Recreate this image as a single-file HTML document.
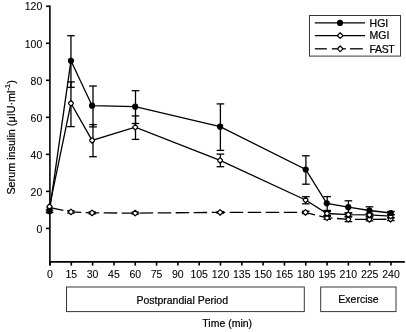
<!DOCTYPE html>
<html><head><meta charset="utf-8"><style>
html,body{margin:0;padding:0;background:#fff;width:406px;height:332px;overflow:hidden}
svg{display:block}
#w{will-change:transform;width:406px;height:332px}
text{font-family:"Liberation Sans", sans-serif;stroke:#000;stroke-width:0.22px;paint-order:stroke}
.tk{stroke-width:0.08px}
</style></head><body><div id="w">
<svg width="406" height="332" viewBox="0 0 406 332" font-family='"Liberation Sans", sans-serif' fill="#000"><line x1="49.9" y1="5.5" x2="49.9" y2="265.6" stroke="#000" stroke-width="1.6"/>
<line x1="49.1" y1="261.9" x2="404.8" y2="261.9" stroke="#000" stroke-width="1.6"/>
<line x1="46" y1="228.40" x2="49.9" y2="228.40" stroke="#000" stroke-width="1.6"/>
<text class="tk" x="42.3" y="232.60" text-anchor="end" font-size="10.5">0</text>
<line x1="46" y1="191.38" x2="49.9" y2="191.38" stroke="#000" stroke-width="1.6"/>
<text class="tk" x="42.3" y="195.58" text-anchor="end" font-size="10.5">20</text>
<line x1="46" y1="154.36" x2="49.9" y2="154.36" stroke="#000" stroke-width="1.6"/>
<text class="tk" x="42.3" y="158.56" text-anchor="end" font-size="10.5">40</text>
<line x1="46" y1="117.34" x2="49.9" y2="117.34" stroke="#000" stroke-width="1.6"/>
<text class="tk" x="42.3" y="121.54" text-anchor="end" font-size="10.5">60</text>
<line x1="46" y1="80.32" x2="49.9" y2="80.32" stroke="#000" stroke-width="1.6"/>
<text class="tk" x="42.3" y="84.52" text-anchor="end" font-size="10.5">80</text>
<line x1="46" y1="43.30" x2="49.9" y2="43.30" stroke="#000" stroke-width="1.6"/>
<text class="tk" x="42.3" y="47.50" text-anchor="end" font-size="10.5">100</text>
<line x1="46" y1="6.28" x2="49.9" y2="6.28" stroke="#000" stroke-width="1.6"/>
<text class="tk" x="42.3" y="10.48" text-anchor="end" font-size="10.5">120</text>
<line x1="50.00" y1="261.9" x2="50.00" y2="265.6" stroke="#000" stroke-width="1.6"/>
<text class="tk" x="50.00" y="278.2" text-anchor="middle" font-size="10.5">0</text>
<line x1="71.31" y1="261.9" x2="71.31" y2="265.6" stroke="#000" stroke-width="1.6"/>
<text class="tk" x="71.31" y="278.2" text-anchor="middle" font-size="10.5">15</text>
<line x1="92.62" y1="261.9" x2="92.62" y2="265.6" stroke="#000" stroke-width="1.6"/>
<text class="tk" x="92.62" y="278.2" text-anchor="middle" font-size="10.5">30</text>
<line x1="113.94" y1="261.9" x2="113.94" y2="265.6" stroke="#000" stroke-width="1.6"/>
<text class="tk" x="113.94" y="278.2" text-anchor="middle" font-size="10.5">45</text>
<line x1="135.25" y1="261.9" x2="135.25" y2="265.6" stroke="#000" stroke-width="1.6"/>
<text class="tk" x="135.25" y="278.2" text-anchor="middle" font-size="10.5">60</text>
<line x1="156.56" y1="261.9" x2="156.56" y2="265.6" stroke="#000" stroke-width="1.6"/>
<text class="tk" x="156.56" y="278.2" text-anchor="middle" font-size="10.5">75</text>
<line x1="177.88" y1="261.9" x2="177.88" y2="265.6" stroke="#000" stroke-width="1.6"/>
<text class="tk" x="177.88" y="278.2" text-anchor="middle" font-size="10.5">90</text>
<line x1="199.19" y1="261.9" x2="199.19" y2="265.6" stroke="#000" stroke-width="1.6"/>
<text class="tk" x="199.19" y="278.2" text-anchor="middle" font-size="10.5">105</text>
<line x1="220.50" y1="261.9" x2="220.50" y2="265.6" stroke="#000" stroke-width="1.6"/>
<text class="tk" x="220.50" y="278.2" text-anchor="middle" font-size="10.5">120</text>
<line x1="241.81" y1="261.9" x2="241.81" y2="265.6" stroke="#000" stroke-width="1.6"/>
<text class="tk" x="241.81" y="278.2" text-anchor="middle" font-size="10.5">135</text>
<line x1="263.12" y1="261.9" x2="263.12" y2="265.6" stroke="#000" stroke-width="1.6"/>
<text class="tk" x="263.12" y="278.2" text-anchor="middle" font-size="10.5">150</text>
<line x1="284.44" y1="261.9" x2="284.44" y2="265.6" stroke="#000" stroke-width="1.6"/>
<text class="tk" x="284.44" y="278.2" text-anchor="middle" font-size="10.5">165</text>
<line x1="305.75" y1="261.9" x2="305.75" y2="265.6" stroke="#000" stroke-width="1.6"/>
<text class="tk" x="305.75" y="278.2" text-anchor="middle" font-size="10.5">180</text>
<line x1="327.06" y1="261.9" x2="327.06" y2="265.6" stroke="#000" stroke-width="1.6"/>
<text class="tk" x="327.06" y="278.2" text-anchor="middle" font-size="10.5">195</text>
<line x1="348.38" y1="261.9" x2="348.38" y2="265.6" stroke="#000" stroke-width="1.6"/>
<text class="tk" x="348.38" y="278.2" text-anchor="middle" font-size="10.5">210</text>
<line x1="369.69" y1="261.9" x2="369.69" y2="265.6" stroke="#000" stroke-width="1.6"/>
<text class="tk" x="369.69" y="278.2" text-anchor="middle" font-size="10.5">225</text>
<line x1="391.00" y1="261.9" x2="391.00" y2="265.6" stroke="#000" stroke-width="1.6"/>
<text class="tk" x="391.00" y="278.2" text-anchor="middle" font-size="10.5">240</text>
<line x1="70.95" y1="210.80" x2="70.95" y2="213.00" stroke="#000" stroke-width="1.3"/>
<line x1="67.15" y1="210.80" x2="74.75" y2="210.80" stroke="#000" stroke-width="1.3"/>
<line x1="67.15" y1="213.00" x2="74.75" y2="213.00" stroke="#000" stroke-width="1.3"/>
<line x1="92.30" y1="212.00" x2="92.30" y2="213.80" stroke="#000" stroke-width="1.3"/>
<line x1="88.50" y1="212.00" x2="96.10" y2="212.00" stroke="#000" stroke-width="1.3"/>
<line x1="88.50" y1="213.80" x2="96.10" y2="213.80" stroke="#000" stroke-width="1.3"/>
<line x1="135.30" y1="212.20" x2="135.30" y2="214.00" stroke="#000" stroke-width="1.3"/>
<line x1="131.50" y1="212.20" x2="139.10" y2="212.20" stroke="#000" stroke-width="1.3"/>
<line x1="131.50" y1="214.00" x2="139.10" y2="214.00" stroke="#000" stroke-width="1.3"/>
<line x1="220.30" y1="211.60" x2="220.30" y2="213.20" stroke="#000" stroke-width="1.3"/>
<line x1="216.50" y1="211.60" x2="224.10" y2="211.60" stroke="#000" stroke-width="1.3"/>
<line x1="216.50" y1="213.20" x2="224.10" y2="213.20" stroke="#000" stroke-width="1.3"/>
<line x1="305.70" y1="211.20" x2="305.70" y2="213.60" stroke="#000" stroke-width="1.3"/>
<line x1="301.90" y1="211.20" x2="309.50" y2="211.20" stroke="#000" stroke-width="1.3"/>
<line x1="301.90" y1="213.60" x2="309.50" y2="213.60" stroke="#000" stroke-width="1.3"/>
<line x1="327.20" y1="216.30" x2="327.20" y2="219.40" stroke="#000" stroke-width="1.3"/>
<line x1="323.40" y1="216.30" x2="331.00" y2="216.30" stroke="#000" stroke-width="1.3"/>
<line x1="323.40" y1="219.40" x2="331.00" y2="219.40" stroke="#000" stroke-width="1.3"/>
<line x1="348.40" y1="217.00" x2="348.40" y2="221.60" stroke="#000" stroke-width="1.3"/>
<line x1="344.60" y1="217.00" x2="352.20" y2="217.00" stroke="#000" stroke-width="1.3"/>
<line x1="344.60" y1="221.60" x2="352.20" y2="221.60" stroke="#000" stroke-width="1.3"/>
<line x1="369.50" y1="218.00" x2="369.50" y2="220.80" stroke="#000" stroke-width="1.3"/>
<line x1="365.70" y1="218.00" x2="373.30" y2="218.00" stroke="#000" stroke-width="1.3"/>
<line x1="365.70" y1="220.80" x2="373.30" y2="220.80" stroke="#000" stroke-width="1.3"/>
<line x1="390.80" y1="217.80" x2="390.80" y2="220.60" stroke="#000" stroke-width="1.3"/>
<line x1="387.00" y1="217.80" x2="394.60" y2="217.80" stroke="#000" stroke-width="1.3"/>
<line x1="387.00" y1="220.60" x2="394.60" y2="220.60" stroke="#000" stroke-width="1.3"/>
<line x1="70.95" y1="81.90" x2="70.95" y2="126.60" stroke="#000" stroke-width="1.3"/>
<line x1="67.15" y1="81.90" x2="74.75" y2="81.90" stroke="#000" stroke-width="1.3"/>
<line x1="67.15" y1="126.60" x2="74.75" y2="126.60" stroke="#000" stroke-width="1.3"/>
<line x1="93.00" y1="124.60" x2="93.00" y2="156.70" stroke="#000" stroke-width="1.3"/>
<line x1="89.20" y1="124.60" x2="96.80" y2="124.60" stroke="#000" stroke-width="1.3"/>
<line x1="89.20" y1="156.70" x2="96.80" y2="156.70" stroke="#000" stroke-width="1.3"/>
<line x1="135.50" y1="115.90" x2="135.50" y2="139.40" stroke="#000" stroke-width="1.3"/>
<line x1="131.70" y1="115.90" x2="139.30" y2="115.90" stroke="#000" stroke-width="1.3"/>
<line x1="131.70" y1="139.40" x2="139.30" y2="139.40" stroke="#000" stroke-width="1.3"/>
<line x1="220.40" y1="154.10" x2="220.40" y2="166.70" stroke="#000" stroke-width="1.3"/>
<line x1="216.60" y1="154.10" x2="224.20" y2="154.10" stroke="#000" stroke-width="1.3"/>
<line x1="216.60" y1="166.70" x2="224.20" y2="166.70" stroke="#000" stroke-width="1.3"/>
<line x1="305.80" y1="196.70" x2="305.80" y2="203.80" stroke="#000" stroke-width="1.3"/>
<line x1="302.00" y1="196.70" x2="309.60" y2="196.70" stroke="#000" stroke-width="1.3"/>
<line x1="302.00" y1="203.80" x2="309.60" y2="203.80" stroke="#000" stroke-width="1.3"/>
<line x1="327.20" y1="211.60" x2="327.20" y2="215.40" stroke="#000" stroke-width="1.3"/>
<line x1="323.40" y1="211.60" x2="331.00" y2="211.60" stroke="#000" stroke-width="1.3"/>
<line x1="323.40" y1="215.40" x2="331.00" y2="215.40" stroke="#000" stroke-width="1.3"/>
<line x1="348.40" y1="213.00" x2="348.40" y2="216.40" stroke="#000" stroke-width="1.3"/>
<line x1="344.60" y1="213.00" x2="352.20" y2="213.00" stroke="#000" stroke-width="1.3"/>
<line x1="344.60" y1="216.40" x2="352.20" y2="216.40" stroke="#000" stroke-width="1.3"/>
<line x1="369.50" y1="213.20" x2="369.50" y2="216.60" stroke="#000" stroke-width="1.3"/>
<line x1="365.70" y1="213.20" x2="373.30" y2="213.20" stroke="#000" stroke-width="1.3"/>
<line x1="365.70" y1="216.60" x2="373.30" y2="216.60" stroke="#000" stroke-width="1.3"/>
<line x1="390.90" y1="214.60" x2="390.90" y2="217.60" stroke="#000" stroke-width="1.3"/>
<line x1="387.10" y1="214.60" x2="394.70" y2="214.60" stroke="#000" stroke-width="1.3"/>
<line x1="387.10" y1="217.60" x2="394.70" y2="217.60" stroke="#000" stroke-width="1.3"/>
<line x1="49.50" y1="210.00" x2="49.50" y2="212.60" stroke="#000" stroke-width="1.3"/>
<line x1="45.70" y1="210.00" x2="53.30" y2="210.00" stroke="#000" stroke-width="1.3"/>
<line x1="45.70" y1="212.60" x2="53.30" y2="212.60" stroke="#000" stroke-width="1.3"/>
<line x1="70.95" y1="35.70" x2="70.95" y2="87.30" stroke="#000" stroke-width="1.3"/>
<line x1="67.15" y1="35.70" x2="74.75" y2="35.70" stroke="#000" stroke-width="1.3"/>
<line x1="67.15" y1="87.30" x2="74.75" y2="87.30" stroke="#000" stroke-width="1.3"/>
<line x1="93.00" y1="86.00" x2="93.00" y2="126.90" stroke="#000" stroke-width="1.3"/>
<line x1="89.20" y1="86.00" x2="96.80" y2="86.00" stroke="#000" stroke-width="1.3"/>
<line x1="89.20" y1="126.90" x2="96.80" y2="126.90" stroke="#000" stroke-width="1.3"/>
<line x1="135.50" y1="90.70" x2="135.50" y2="123.50" stroke="#000" stroke-width="1.3"/>
<line x1="131.70" y1="90.70" x2="139.30" y2="90.70" stroke="#000" stroke-width="1.3"/>
<line x1="131.70" y1="123.50" x2="139.30" y2="123.50" stroke="#000" stroke-width="1.3"/>
<line x1="220.40" y1="103.90" x2="220.40" y2="150.40" stroke="#000" stroke-width="1.3"/>
<line x1="216.60" y1="103.90" x2="224.20" y2="103.90" stroke="#000" stroke-width="1.3"/>
<line x1="216.60" y1="150.40" x2="224.20" y2="150.40" stroke="#000" stroke-width="1.3"/>
<line x1="305.90" y1="155.80" x2="305.90" y2="184.20" stroke="#000" stroke-width="1.3"/>
<line x1="302.10" y1="155.80" x2="309.70" y2="155.80" stroke="#000" stroke-width="1.3"/>
<line x1="302.10" y1="184.20" x2="309.70" y2="184.20" stroke="#000" stroke-width="1.3"/>
<line x1="327.20" y1="196.60" x2="327.20" y2="210.40" stroke="#000" stroke-width="1.3"/>
<line x1="323.40" y1="196.60" x2="331.00" y2="196.60" stroke="#000" stroke-width="1.3"/>
<line x1="323.40" y1="210.40" x2="331.00" y2="210.40" stroke="#000" stroke-width="1.3"/>
<line x1="348.40" y1="200.80" x2="348.40" y2="213.00" stroke="#000" stroke-width="1.3"/>
<line x1="344.60" y1="200.80" x2="352.20" y2="200.80" stroke="#000" stroke-width="1.3"/>
<line x1="344.60" y1="213.00" x2="352.20" y2="213.00" stroke="#000" stroke-width="1.3"/>
<line x1="369.50" y1="206.80" x2="369.50" y2="214.50" stroke="#000" stroke-width="1.3"/>
<line x1="365.70" y1="206.80" x2="373.30" y2="206.80" stroke="#000" stroke-width="1.3"/>
<line x1="365.70" y1="214.50" x2="373.30" y2="214.50" stroke="#000" stroke-width="1.3"/>
<line x1="390.90" y1="211.50" x2="390.90" y2="214.60" stroke="#000" stroke-width="1.3"/>
<line x1="387.10" y1="211.50" x2="394.70" y2="211.50" stroke="#000" stroke-width="1.3"/>
<line x1="387.10" y1="214.60" x2="394.70" y2="214.60" stroke="#000" stroke-width="1.3"/>
<polyline points="49.50,207.60 70.95,211.90 92.10,212.90 135.20,213.10 220.10,212.40 305.50,212.40 327.00,217.80 348.30,219.30 369.40,219.40 390.60,219.20" fill="none" stroke="#000" stroke-width="1.3" stroke-dasharray="13.5 4.5" stroke-dashoffset="-0.63"/>
<polyline points="49.50,206.60 70.95,103.30 92.10,140.40 135.20,127.20 220.10,160.40 305.60,200.00 327.00,213.50 348.30,214.70 369.40,214.90 390.70,216.10" fill="none" stroke="#000" stroke-width="1.3"/>
<polyline points="49.50,211.20 70.95,60.80 92.10,105.70 135.20,106.70 220.10,126.70 305.70,169.50 326.80,203.30 348.30,207.20 369.40,210.50 390.80,213.00" fill="none" stroke="#000" stroke-width="1.3"/>
<polygon points="49.50,204.80 51.80,207.00 51.80,208.20 49.50,210.40 47.20,208.20 47.20,207.00" fill="#fff" stroke="#000" stroke-width="1.2" stroke-linejoin="round"/>
<polygon points="70.95,209.10 73.25,211.30 73.25,212.50 70.95,214.70 68.65,212.50 68.65,211.30" fill="#fff" stroke="#000" stroke-width="1.2" stroke-linejoin="round"/>
<polygon points="92.10,210.10 94.40,212.30 94.40,213.50 92.10,215.70 89.80,213.50 89.80,212.30" fill="#fff" stroke="#000" stroke-width="1.2" stroke-linejoin="round"/>
<polygon points="135.20,210.30 137.50,212.50 137.50,213.70 135.20,215.90 132.90,213.70 132.90,212.50" fill="#fff" stroke="#000" stroke-width="1.2" stroke-linejoin="round"/>
<polygon points="220.10,209.60 222.40,211.80 222.40,213.00 220.10,215.20 217.80,213.00 217.80,211.80" fill="#fff" stroke="#000" stroke-width="1.2" stroke-linejoin="round"/>
<polygon points="305.50,209.60 307.80,211.80 307.80,213.00 305.50,215.20 303.20,213.00 303.20,211.80" fill="#fff" stroke="#000" stroke-width="1.2" stroke-linejoin="round"/>
<polygon points="327.00,215.00 329.30,217.20 329.30,218.40 327.00,220.60 324.70,218.40 324.70,217.20" fill="#fff" stroke="#000" stroke-width="1.2" stroke-linejoin="round"/>
<polygon points="348.30,216.50 350.60,218.70 350.60,219.90 348.30,222.10 346.00,219.90 346.00,218.70" fill="#fff" stroke="#000" stroke-width="1.2" stroke-linejoin="round"/>
<polygon points="369.40,216.60 371.70,218.80 371.70,220.00 369.40,222.20 367.10,220.00 367.10,218.80" fill="#fff" stroke="#000" stroke-width="1.2" stroke-linejoin="round"/>
<polygon points="390.60,216.40 392.90,218.60 392.90,219.80 390.60,222.00 388.30,219.80 388.30,218.60" fill="#fff" stroke="#000" stroke-width="1.2" stroke-linejoin="round"/>
<polygon points="49.50,203.80 51.80,206.00 51.80,207.20 49.50,209.40 47.20,207.20 47.20,206.00" fill="#fff" stroke="#000" stroke-width="1.2" stroke-linejoin="round"/>
<polygon points="70.95,100.50 73.25,102.70 73.25,103.90 70.95,106.10 68.65,103.90 68.65,102.70" fill="#fff" stroke="#000" stroke-width="1.2" stroke-linejoin="round"/>
<polygon points="92.10,137.60 94.40,139.80 94.40,141.00 92.10,143.20 89.80,141.00 89.80,139.80" fill="#fff" stroke="#000" stroke-width="1.2" stroke-linejoin="round"/>
<polygon points="135.20,124.40 137.50,126.60 137.50,127.80 135.20,130.00 132.90,127.80 132.90,126.60" fill="#fff" stroke="#000" stroke-width="1.2" stroke-linejoin="round"/>
<polygon points="220.10,157.60 222.40,159.80 222.40,161.00 220.10,163.20 217.80,161.00 217.80,159.80" fill="#fff" stroke="#000" stroke-width="1.2" stroke-linejoin="round"/>
<polygon points="305.60,197.20 307.90,199.40 307.90,200.60 305.60,202.80 303.30,200.60 303.30,199.40" fill="#fff" stroke="#000" stroke-width="1.2" stroke-linejoin="round"/>
<polygon points="327.00,210.70 329.30,212.90 329.30,214.10 327.00,216.30 324.70,214.10 324.70,212.90" fill="#fff" stroke="#000" stroke-width="1.2" stroke-linejoin="round"/>
<polygon points="348.30,211.90 350.60,214.10 350.60,215.30 348.30,217.50 346.00,215.30 346.00,214.10" fill="#fff" stroke="#000" stroke-width="1.2" stroke-linejoin="round"/>
<polygon points="369.40,212.10 371.70,214.30 371.70,215.50 369.40,217.70 367.10,215.50 367.10,214.30" fill="#fff" stroke="#000" stroke-width="1.2" stroke-linejoin="round"/>
<polygon points="390.70,213.30 393.00,215.50 393.00,216.70 390.70,218.90 388.40,216.70 388.40,215.50" fill="#fff" stroke="#000" stroke-width="1.2" stroke-linejoin="round"/>
<circle cx="49.50" cy="211.20" r="3.10" fill="#000"/>
<circle cx="70.95" cy="60.80" r="3.10" fill="#000"/>
<circle cx="92.10" cy="105.70" r="3.10" fill="#000"/>
<circle cx="135.20" cy="106.70" r="3.10" fill="#000"/>
<circle cx="220.10" cy="126.70" r="3.10" fill="#000"/>
<circle cx="305.70" cy="169.50" r="3.10" fill="#000"/>
<circle cx="326.80" cy="203.30" r="3.10" fill="#000"/>
<circle cx="348.30" cy="207.20" r="3.10" fill="#000"/>
<circle cx="369.40" cy="210.50" r="3.10" fill="#000"/>
<circle cx="390.80" cy="213.00" r="3.10" fill="#000"/>
<rect x="309.5" y="15.5" width="91" height="40.6" fill="#fff" stroke="#383838" stroke-width="1"/>
<line x1="314.8" y1="22.9" x2="365" y2="22.9" stroke="#000" stroke-width="1.3"/>
<circle cx="340" cy="22.9" r="3.10" fill="#000"/>
<text x="369.6" y="26.70" font-size="10.5">HGI</text>
<line x1="314.8" y1="35.6" x2="365" y2="35.6" stroke="#000" stroke-width="1.3"/>
<polygon points="340.20,32.80 342.50,35.00 342.50,36.20 340.20,38.40 337.90,36.20 337.90,35.00" fill="#fff" stroke="#000" stroke-width="1.2" stroke-linejoin="round"/>
<text x="369.6" y="39.40" font-size="10.5">MGI</text>
<line x1="314.8" y1="48.8" x2="326.8" y2="48.8" stroke="#000" stroke-width="1.3"/>
<line x1="331.8" y1="48.8" x2="345.8" y2="48.8" stroke="#000" stroke-width="1.3"/>
<line x1="350" y1="48.8" x2="362.8" y2="48.8" stroke="#000" stroke-width="1.3"/>
<polygon points="340.20,46.00 342.50,48.20 342.50,49.40 340.20,51.60 337.90,49.40 337.90,48.20" fill="#fff" stroke="#000" stroke-width="1.2" stroke-linejoin="round"/>
<text x="369.6" y="52.60" font-size="10.5" letter-spacing="-0.4">FAST</text>
<rect x="66.5" y="287" width="237.8" height="24.6" fill="none" stroke="#383838" stroke-width="1"/>
<text x="182.2" y="303.5" text-anchor="middle" font-size="10.5">Postprandial Period</text>
<rect x="320.7" y="287" width="75.3" height="24.6" fill="none" stroke="#383838" stroke-width="1"/>
<text x="358.5" y="303.4" text-anchor="middle" font-size="10.5">Exercise</text>
<text x="227.2" y="327.2" text-anchor="middle" font-size="10.5">Time (min)</text>
<text transform="translate(15.0,137.4) rotate(-90)" text-anchor="middle" font-size="10.8">Serum insulin (&#956;IU&#183;ml<tspan font-size="7.6" dy="-5">-1</tspan><tspan dy="5">)</tspan></text></svg>
</div></body></html>
